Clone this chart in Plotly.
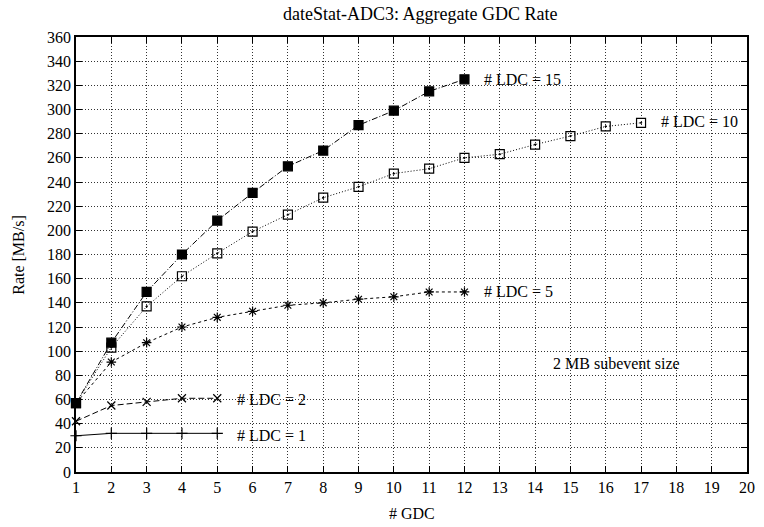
import plotly.graph_objects as go

# Number of GDCs on the x axis
gdc = list(range(1, 21))

# Aggregate rate [MB/s] for each LDC count
rate_ldc15 = [57, 107, 149, 180, 208, 231, 253, 266, 287, 299, 315, 325]
rate_ldc10 = [57, 103, 137, 162, 181, 199, 213, 227, 236, 247, 251, 260, 263, 271, 278, 286, 289]
rate_ldc5 = [57, 91, 107, 120, 128, 133, 138, 140, 143, 145, 149, 149]
rate_ldc2 = [42, 55, 58, 61, 61]
rate_ldc1 = [30, 32, 32, 32, 32]

series = [
    ("# LDC = 15", rate_ldc15, "square", "6px,2px,1px,2px", 9),
    ("# LDC = 10", rate_ldc10, "square-open-dot", "1px,2px", 9),
    ("# LDC = 5", rate_ldc5, "asterisk-open", "3px,3px", 8),
    ("# LDC = 2", rate_ldc2, "x-thin-open", "6px,3px", 8),
    ("# LDC = 1", rate_ldc1, "cross-thin-open", "solid", 8),
]

# Curve labels: (text, x, y)
curve_labels = [
    ("# LDC = 15", 12.5, 325),
    ("# LDC = 10", 17.5, 290),
    ("# LDC = 5", 12.5, 149),
    ("# LDC = 2", 5.5, 60),
    ("# LDC = 1", 5.5, 30),
]

FONT = "Liberation Serif"
FS = 16

fig = go.Figure()
for name, vals, sym, dash, size in series:
    fig.add_trace(go.Scatter(
        x=gdc[:len(vals)], y=vals, mode="lines+markers", name=name,
        line=dict(color="black", width=1, dash=dash),
        marker=dict(symbol=sym, size=size, color="black",
                    line=dict(color="black", width=1.2)),
        showlegend=False, cliponaxis=False,
    ))

for text, x, y in curve_labels:
    fig.add_annotation(x=x, y=y, text=text, showarrow=False,
                       xanchor="left", yanchor="middle",
                       font=dict(family=FONT, size=FS, color="black"))

fig.add_annotation(x=16.3, y=90, text="2 MB subevent size", showarrow=False,
                   xanchor="center", yanchor="middle",
                   font=dict(family=FONT, size=FS, color="black"))

# Axis titles
fig.add_annotation(xref="paper", yref="paper", x=0.5, y=-0.095,
                   text="# GDC", showarrow=False, xanchor="center", yanchor="middle",
                   font=dict(family=FONT, size=FS, color="black"))
fig.add_annotation(xref="paper", yref="paper", x=-0.086, y=0.5,
                   text="Rate [MB/s]", showarrow=False, textangle=-90,
                   xanchor="center", yanchor="middle",
                   font=dict(family=FONT, size=FS, color="black"))

axis_common = dict(
    showline=True, linecolor="black", linewidth=1.5, mirror="allticks",
    ticks="inside", ticklen=6, tickcolor="black", tickwidth=1,
    showgrid=True, gridcolor="#333", gridwidth=1, griddash="1px,2px",
    zeroline=False,
    tickfont=dict(family=FONT, size=FS, color="black"),
)

fig.update_xaxes(range=[1, 20], tickmode="array", tickvals=gdc, **axis_common)
fig.update_yaxes(range=[0, 360], tickmode="linear", tick0=0, dtick=20, **axis_common)

fig.update_layout(
    width=764, height=527,
    margin=dict(l=76, r=9, t=37, b=55),
    paper_bgcolor="white", plot_bgcolor="white",
    title=dict(text="dateStat-ADC3: Aggregate GDC Rate", x=0.55, xanchor="center",
               y=0.974, yanchor="middle",
               font=dict(family=FONT, size=18, color="black")),
)

fig.write_html("out.html")
